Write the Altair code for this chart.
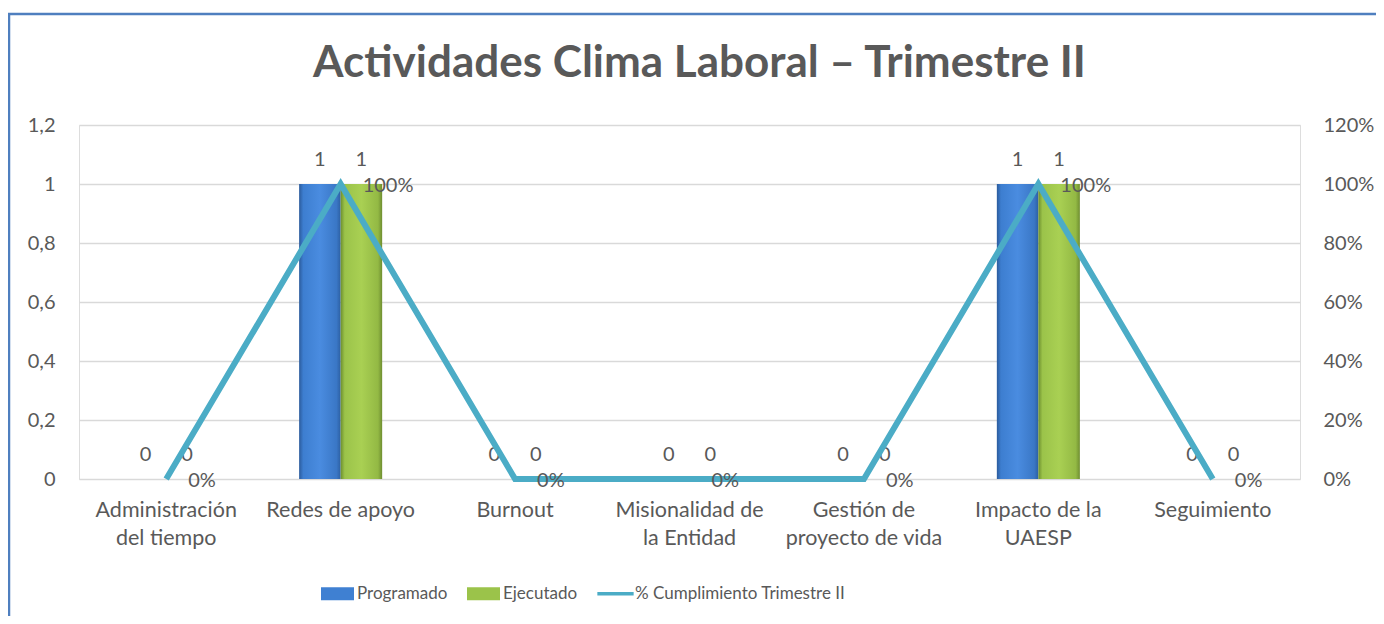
import altair as alt
import pandas as pd

categorias = [
    "Administración del tiempo",
    "Redes de apoyo",
    "Burnout",
    "Misionalidad de la Entidad",
    "Gestión de proyecto de vida",
    "Impacto de la UAESP",
    "Seguimiento",
]
etiquetas = [
    "Administración|del tiempo",
    "Redes de apoyo",
    "Burnout",
    "Misionalidad de|la Entidad",
    "Gestión de|proyecto de vida",
    "Impacto de la|UAESP",
    "Seguimiento",
]
programado = [0, 1, 0, 0, 0, 1, 0]
ejecutado = [0, 1, 0, 0, 0, 1, 0]
cumplimiento = [0, 1, 0, 0, 0, 1, 0]

series_barras = ["Programado", "Ejecutado"]
serie_linea = "% Cumplimiento Trimestre II"
leyenda = series_barras + [serie_linea]

TXT = "#595959"
FONT = "Lato"

barras = pd.DataFrame(
    {
        "categoria": categorias * 2,
        "serie": ["Programado"] * 7 + ["Ejecutado"] * 7,
        "valor": programado + ejecutado,
    }
)
linea = pd.DataFrame({"categoria": categorias, "pct": cumplimiento})
leg_df = pd.DataFrame({"serie": leyenda})

label_map = "{" + ",".join(f"'{c}':'{e}'" for c, e in zip(categorias, etiquetas)) + "}"

xscale = alt.Scale(domain=categorias, paddingInner=0.524, paddingOuter=0.262)
x_axis = alt.Axis(
    title=None,
    labelAngle=0,
    labelExpr=f"split({label_map}[datum.label], '|')",
    labelFontSize=21.5,
    labelColor=TXT,
    labelFont=FONT,
    labelLineHeight=28,
    labelPadding=20,
    labelBaseline="top",
    ticks=False,
    domain=False,
    grid=False,
)


def xenc(**kw):
    return alt.X("categoria:N", sort=categorias, scale=xscale, axis=x_axis, **kw)


xoff = alt.XOffset("serie:N", scale=alt.Scale(domain=series_barras, paddingInner=0, paddingOuter=0))

yscale = alt.Scale(domain=[0, 1.2], nice=False, zero=True)
ticks_y = [0, 0.2, 0.4, 0.6, 0.8, 1.0, 1.2]
left_axis = alt.Axis(
    title=None,
    values=ticks_y,
    labelExpr="replace(format(datum.value, '.1~f'), '.', ',')",
    labelFontSize=20,
    labelColor=TXT,
    labelFont=FONT,
    labelPadding=24,
    ticks=False,
    domain=False,
    grid=True,
    gridColor="#d9d9d9",
    gridWidth=1.5,
)
right_axis = alt.Axis(
    title=None,
    orient="right",
    values=ticks_y,
    format=".0%",
    labelFontSize=20,
    labelColor=TXT,
    labelFont=FONT,
    labelPadding=23,
    ticks=False,
    domain=False,
    grid=False,
)


def yleft():
    return alt.Y("valor:Q", scale=yscale, axis=left_axis)


def yright():
    return alt.Y("pct:Q", scale=yscale, axis=right_axis)


def grad(stops):
    return alt.Gradient(
        gradient="linear",
        stops=[alt.GradientStop(color=c, offset=o) for o, c in stops],
        x1=0, x2=1, y1=0, y2=0,
    )


azul = grad([(0, "#2b5b9c"), (0.1, "#3d7ed0"), (0.5, "#4a8ce0"), (0.9, "#3a77c6"), (1, "#2d60a3")])
verde = grad([(0, "#6d8f2e"), (0.1, "#9bc34a"), (0.5, "#a9d053"), (0.9, "#93b944"), (1, "#6f8e31")])

base_b = alt.Chart(barras)
bar_prog = base_b.transform_filter("datum.serie == 'Programado'").mark_bar(color=azul).encode(
    x=xenc(), xOffset=xoff, y=yleft()
)
bar_ejec = base_b.transform_filter("datum.serie == 'Ejecutado'").mark_bar(color=verde).encode(
    x=xenc(), xOffset=xoff, y=yleft()
)
bar_txt = base_b.mark_text(fontSize=20, font=FONT, color=TXT, dy=-24, baseline="middle").encode(
    x=xenc(), xOffset=xoff, y=yleft(), text=alt.Text("valor:Q", format="d")
)

borde = alt.Chart(pd.DataFrame({"b": [0]})).mark_rect(
    fill="transparent", stroke="#4f7fbf", strokeWidth=2.5
).encode(x=alt.value(-70), x2=alt.value(1400), y=alt.value(-111), y2=alt.value(600))

leg_pts = alt.Chart(leg_df).mark_point(filled=True, opacity=0, size=1089).encode(
    x=alt.value(0),
    y=alt.value(0),
    color=alt.Color(
        "serie:N",
        scale=alt.Scale(domain=leyenda, range=["#3f80d2", "#9bc34a", "#4bacc6"]),
        legend=alt.Legend(
            title=None,
            orient="none",
            direction="horizontal",
            legendX=242,
            legendY=452,
            symbolOpacity=1,
            symbolStrokeWidth=0,
            symbolSize=1089,
            labelFontSize=17,
            labelFont=FONT,
            labelColor=TXT,
            labelOffset=3,
            labelLimit=400,
            columnPadding=19,
            padding=0,
        ),
    ),
    shape=alt.Shape(
        "serie:N",
        scale=alt.Scale(
            domain=leyenda,
            range=["M-1,-0.4H1V0.4H-1Z", "M-1,-0.4H1V0.4H-1Z", "M-1.1,-0.1H1.1V0.1H-1.1Z"],
        ),
        legend=None,
    ),
)

izq = alt.layer(borde, bar_prog, bar_ejec, bar_txt, leg_pts)

base_l = alt.Chart(linea)
linea_mark = base_l.mark_line(color="#4bacc6", strokeWidth=6, strokeJoin="miter", strokeCap="butt").encode(
    x=xenc(bandPosition=0.5), y=yright()
)
pct_txt = base_l.mark_text(fontSize=20, font=FONT, color=TXT, align="left", dx=22, dy=2, baseline="middle").encode(
    x=xenc(bandPosition=0.5), y=yright(), text=alt.Text("pct:Q", format=".0%")
)
der = alt.layer(linea_mark, pct_txt)

chart = (
    alt.layer(izq, der)
    .resolve_scale(y="independent")
    .properties(
        width=1221,
        height=354,
        padding={"left": 71, "top": 117, "right": 76, "bottom": 137},
        autosize=alt.AutoSizeParams(type="none"),
        title=alt.Title(
            "Actividades Clima Laboral – Trimestre II",
            fontSize=44,
            font=FONT,
            fontWeight="bold",
            color=TXT,
            anchor="middle",
            dx=10,
            baseline="alphabetic",
            offset=-108,
        ),
    )
    .configure_view(strokeWidth=0)
    .configure(background="white")
)

chart.save("out.html", embed_options={"renderer": "svg", "actions": False})
